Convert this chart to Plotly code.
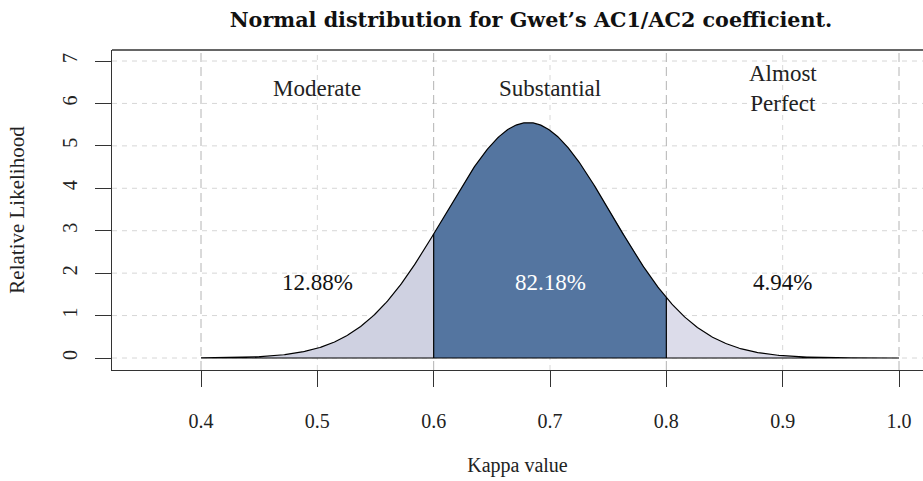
import numpy as np
import plotly.graph_objects as go

# Values
mean_kappa = 0.6814
sd_kappa = 0.0719
bounds = [0.4, 0.6, 0.8, 1.0]
band_names = ["Moderate", "Substantial", "Almost<br>Perfect"]
band_pct = ["12.88%", "82.18%", "4.94%"]
band_colors = ["#cfd1e1", "#5475a0", "#dcdcea"]
pct_colors = ["#111111", "#ffffff", "#111111"]
x_ticks = [0.4, 0.5, 0.6, 0.7, 0.8, 0.9, 1.0]
x_ticklabels = ["0.4", "0.5", "0.6", "0.7", "0.8", "0.9", "1.0"]
y_ticks = [0, 1, 2, 3, 4, 5, 6, 7]

def pdf(x):
    return np.exp(-0.5 * ((x - mean_kappa) / sd_kappa) ** 2) / (sd_kappa * np.sqrt(2 * np.pi))

FONT = "Liberation Serif"
fig = go.Figure()

# gridlines (below)
shapes = []
for yv in y_ticks:
    shapes.append(dict(type="line", xref="paper", yref="y", x0=0, x1=1, y0=yv, y1=yv,
                       line=dict(color="#d6d6d6", width=1, dash="5px,5px"), layer="below"))
for xv in x_ticks:
    major = round(xv * 10) % 2 == 0
    shapes.append(dict(type="line", xref="x", yref="paper", x0=xv, x1=xv, y0=0, y1=1,
                       line=dict(color="#b4b4b4" if major else "#d8d8d8", width=1,
                                 dash="9px,5px" if major else "5px,5px"), layer="below"))
# top border
shapes.append(dict(type="line", xref="paper", yref="paper", x0=0, x1=1, y0=1, y1=1,
                   line=dict(color="#333333", width=1.3)))

for i in range(3):
    xs = np.linspace(bounds[i], bounds[i + 1], 200)
    ys = pdf(xs)
    px = np.concatenate([[bounds[i]], xs, [bounds[i + 1]]])
    py = np.concatenate([[0], ys, [0]])
    fig.add_trace(go.Scatter(x=px, y=py, fill="toself", fillcolor=band_colors[i],
                             mode="lines", line=dict(width=0), hoverinfo="skip",
                             showlegend=False))

# curve outline
xc = np.linspace(bounds[0], bounds[-1], 600)
fig.add_trace(go.Scatter(x=np.concatenate([xc, [bounds[-1], bounds[0]]]),
                         y=np.concatenate([pdf(xc), [0, 0]]),
                         mode="lines", line=dict(color="black", width=1.2),
                         showlegend=False, hoverinfo="skip"))
# vertical separators at inner bounds
for b in bounds[1:-1]:
    fig.add_trace(go.Scatter(x=[b, b], y=[0, pdf(b)], mode="lines",
                             line=dict(color="black", width=1.2),
                             showlegend=False, hoverinfo="skip"))

annotations = []
for i in range(3):
    cx = (bounds[i] + bounds[i + 1]) / 2
    annotations.append(dict(x=cx, y=6.36, xref="x", yref="y", text=band_names[i],
                            showarrow=False, font=dict(family=FONT, size=23, color="#222222")))
    annotations.append(dict(x=cx, y=1.77, xref="x", yref="y", text=band_pct[i],
                            showarrow=False, font=dict(family=FONT, size=23, color=pct_colors[i])))

fig.update_layout(
    width=923, height=481,
    margin=dict(l=112, r=0, t=50, b=111),
    plot_bgcolor="white", paper_bgcolor="white",
    shapes=shapes, annotations=annotations,
    title=dict(text="<b>Normal distribution for Gwet’s AC1/AC2 coefficient.</b>",
               x=(531 - 112) / 811, xref="paper", xanchor="center",
               y=1 - 20 / 481, yanchor="middle", yref="container",
               font=dict(family="DejaVu Serif", size=20.7, color="#111111")),
    xaxis=dict(range=[0.32349, 1.02063], tickvals=x_ticks, ticktext=x_ticklabels,
               showgrid=False, zeroline=False, showline=True, linecolor="#333333", linewidth=1.3,
               ticks="outside", ticklen=16, tickcolor="#333333", tickwidth=1.2,
               ticklabelstandoff=17,
               tickfont=dict(family=FONT, size=20, color="#222222"),
               title=dict(text="Kappa value", standoff=26,
                          font=dict(family=FONT, size=20, color="#222222"))),
    yaxis=dict(range=[-0.2828, 7.2593], tickvals=y_ticks,
               showgrid=False, zeroline=False, showline=True, linecolor="#333333", linewidth=1.3,
               ticks="outside", ticklen=16, tickcolor="#333333", tickwidth=1.2,
               tickangle=-90, ticklabelstandoff=10,
               tickfont=dict(family=FONT, size=20, color="#222222"),
               title=dict(text="Relative Likelihood", standoff=28,
                          font=dict(family=FONT, size=21, color="#222222"))),
)

fig.write_html("out.html")
